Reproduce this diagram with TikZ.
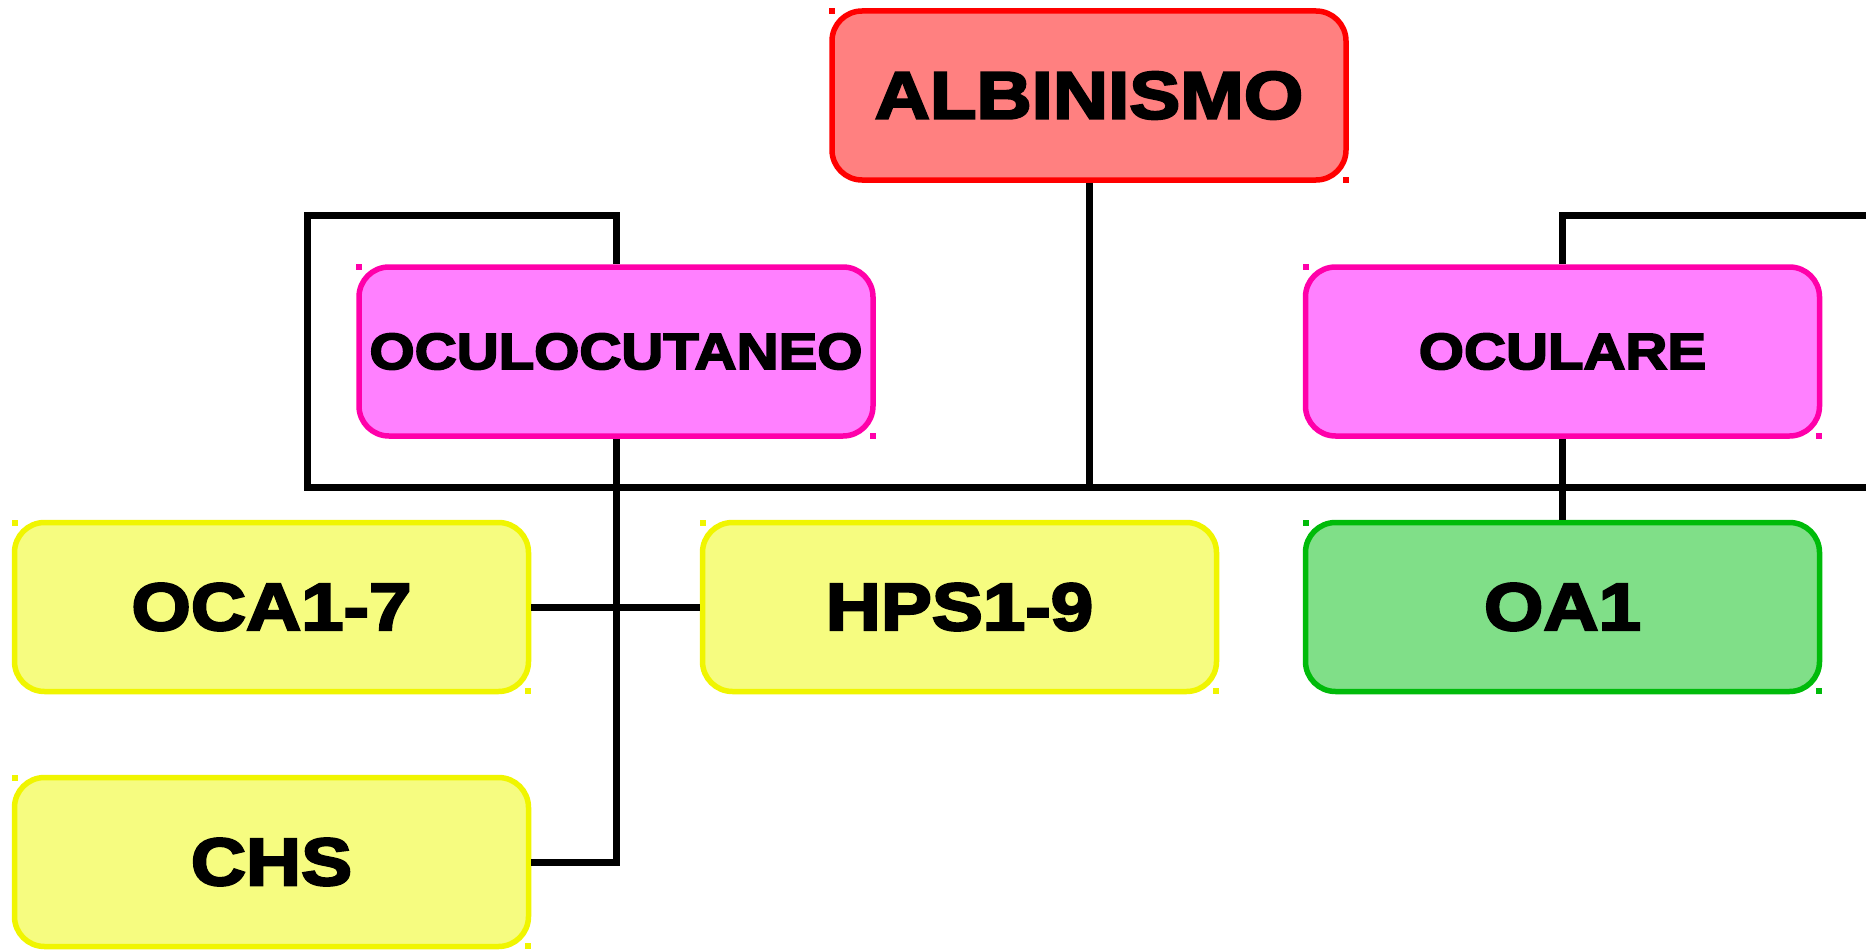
\documentclass[tikz,border=0pt]{standalone}
\usepackage{fontspec}
\newfontfamily\boxfont[FakeStretch=1.14,FakeBold=3.5]{Liberation Sans Bold}
\definecolor{redfill}{HTML}{FF8080}
\definecolor{redline}{HTML}{FF0000}
\definecolor{pinkfill}{HTML}{FF80FF}
\definecolor{pinkline}{HTML}{FF00AA}
\definecolor{yelfill}{HTML}{F6FC80}
\definecolor{yelline}{HTML}{F0F500}
\definecolor{grnfill}{HTML}{80DF88}
\definecolor{grnline}{HTML}{00BB0A}
\newcommand\cornermarks[2]{%
  \fill[#2] (#1.north west) rectangle +(6,6);
  \fill[#2] (#1.south east) rectangle +(-6,-6);}
\tikzset{
  box/.style={draw, line width=5.5pt, rounded corners=30pt, minimum width=514pt,
    minimum height=169pt, inner sep=0pt, text=black, font=\boxfont\fontsize{68}{68}\selectfont},
  bigtxt/.style={font=\boxfont\fontsize{67}{67}\selectfont},
  smalltxt/.style={font=\boxfont\fontsize{51}{51}\selectfont},
  redbox/.style={box, draw=redline, fill=redfill},
  pinkbox/.style={box, draw=pinkline, fill=pinkfill},
  yelbox/.style={box, draw=yelline, fill=yelfill},
  grnbox/.style={box, draw=grnline, fill=grnfill},
  conn/.style={draw=black, line width=7pt}
}
\begin{document}
\begin{tikzpicture}[x=1pt,y=-1pt]
\useasboundingbox (0,0) rectangle (1866,950);
\clip (0,0) rectangle (1866,950);
\fill[white] (0,0) rectangle (1866,950);
\node[redbox, bigtxt]  (ALB) at (1089,95.5) {ALBINISMO};
\node[pinkbox, smalltxt] (OCU) at (616,351.5) {OCULOCUTANEO};
\node[pinkbox, smalltxt] (OCL) at (1562.5,351.5) {OCULARE};
\node[yelbox, bigtxt] (OCA) at (271.5,607) {OCA1-7};
\node[yelbox, bigtxt] (HPS) at (959.5,607) {HPS1-9};
\node[grnbox, bigtxt] (OA1) at (1562.5,607) {OA1};
\node[yelbox, bigtxt] (CHS) at (271.5,862) {CHS};
\cornermarks{ALB}{redline}
\cornermarks{OCU}{pinkline}
\cornermarks{OCL}{pinkline}
\cornermarks{OCA}{yelline}
\cornermarks{HPS}{yelline}
\cornermarks{OA1}{grnline}
\cornermarks{CHS}{yelline}
\coordinate (busL) at (307,487);
\coordinate (topL) at (307,215);
\coordinate (busR) at (1895,487);
\coordinate (topR) at (1895,215);
\draw[conn] (ALB.south) |- (busL) -- (topL) -| (OCU.north);
\draw[conn] (ALB.south) |- (busR) -- (topR) -| (OCL.north);
\draw[conn] (OCU.south) |- (CHS.east);
\draw[conn] (OCA.east) -- (HPS.west);
\draw[conn] (OCL.south) -- (OA1.north);
\end{tikzpicture}
\end{document}
